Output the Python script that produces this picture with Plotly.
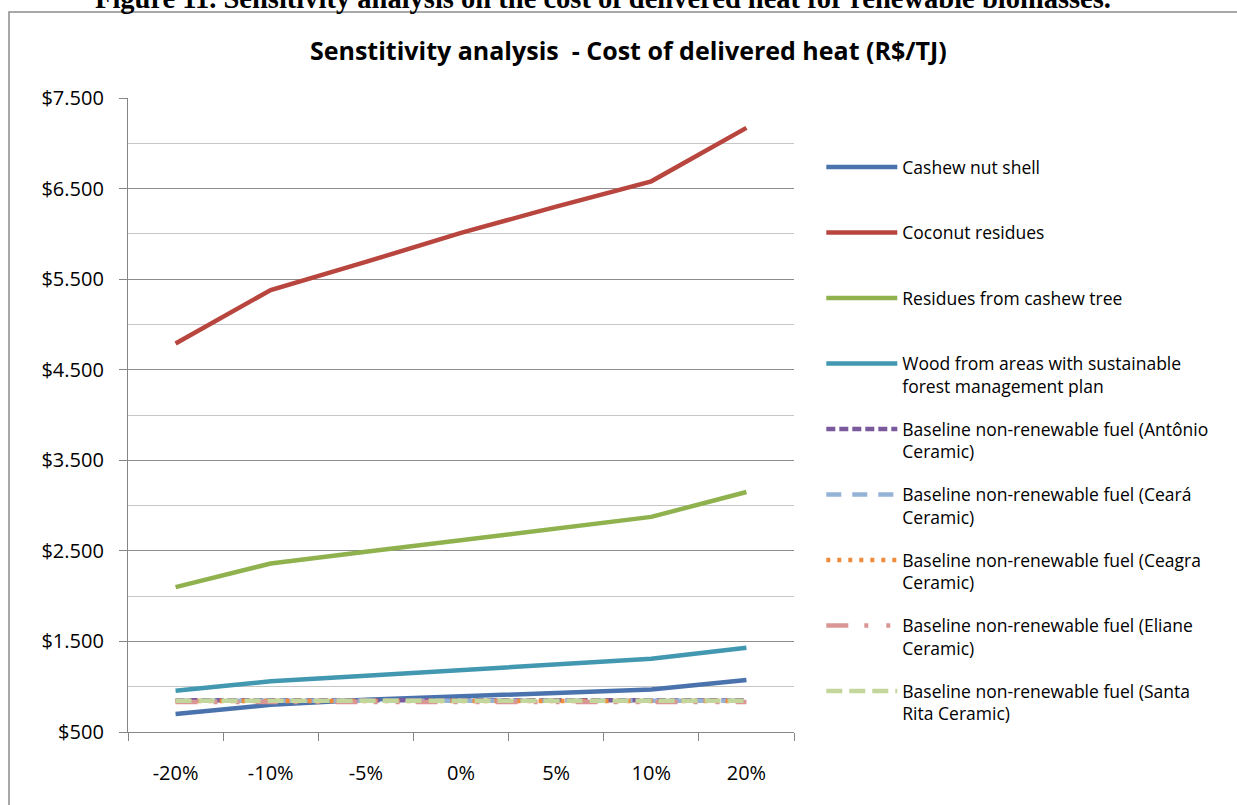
import plotly.graph_objects as go

categories = ["-20%", "-10%", "-5%", "0%", "5%", "10%", "20%"]

cashew_nut_shell = [700, 800, 855, 895, 935, 970, 1075]
coconut_residues = [4790, 5380, 5690, 6010, 6300, 6580, 7170]
residues_cashew_tree = [2100, 2360, 2490, 2620, 2755, 2875, 3150]
wood_sustainable = [955, 1060, 1120, 1180, 1245, 1310, 1430]
baseline_antonio = [850] * 7
baseline_ceara = [845] * 7
baseline_ceagra = [842] * 7
baseline_eliane = [832] * 7
baseline_santa_rita = [845] * 7

y_ticks = [500, 1500, 2500, 3500, 4500, 5500, 6500, 7500]
y_minor = [1000, 2000, 3000, 4000, 5000, 6000, 7000]
y_ticktext = ["$" + f"{v:,}".replace(",", ".") for v in y_ticks]

series = [
    ("Cashew nut shell<br> ", cashew_nut_shell, "#4A72AC", "solid"),
    ("Coconut residues<br> ", coconut_residues, "#B8463F", "solid"),
    ("Residues from cashew tree<br> ", residues_cashew_tree, "#8FB24E", "solid"),
    ("Wood from areas with sustainable<br>forest management plan", wood_sustainable, "#4198B0", "solid"),
    ("Baseline non-renewable fuel (Antônio<br>Ceramic)", baseline_antonio, "#7A5A9C", "9px,4px"),
    ("Baseline non-renewable fuel (Ceará<br>Ceramic)", baseline_ceara, "#95B3D7", "15px,11px"),
    ("Baseline non-renewable fuel (Ceagra<br>Ceramic)", baseline_ceagra, "#F08A3C", "4px,7px"),
    ("Baseline non-renewable fuel (Eliane<br>Ceramic)", baseline_eliane, "#D99694", "22px,16px,4px,18px,4px,16px"),
    ("Baseline non-renewable fuel (Santa<br>Rita Ceramic)", baseline_santa_rita, "#C3D69B", "16px,7px"),
]

fig = go.Figure()
for i, (name, vals, color, dash) in enumerate(series):
    fig.add_trace(go.Scatter(
        x=categories, y=vals, name=name, mode="lines",
        legendgroup=f"g{i}",
        line=dict(color=color, width=4.5, dash=dash),
    ))

FONT = "Open Sans"

fig.update_layout(
    width=1237, height=805,
    margin=dict(l=128, r=443, t=98, b=73),
    paper_bgcolor="white", plot_bgcolor="white",
    title=dict(
        text="<b>Senstitivity analysis  - Cost of delivered heat (R$/TJ)</b>",
        x=0.508, xanchor="center", y=1 - 51 / 805, yanchor="middle",
        font=dict(family=FONT, size=25, color="#000000"),
    ),
    legend=dict(
        x=1.041, xanchor="left", y=(732 - 149) / 634, yanchor="top",
        font=dict(family=FONT, size=17.5, color="#000000"),
        valign="top", itemwidth=71, tracegroupgap=17,
        bgcolor="rgba(0,0,0,0)",
    ),
    font=dict(family=FONT, color="#000000"),
)

fig.update_xaxes(
    type="category", range=[-0.5, 6.5], tickson="boundaries",
    ticks="outside", ticklen=8,
    tickcolor="#868686", tickwidth=1.3,
    showline=True, linecolor="#868686", linewidth=1.3,
    showgrid=False, tickfont=dict(family=FONT, size=20, color="#000000"),
    ticklabelstandoff=23,
)
fig.update_yaxes(
    range=[500, 7500], tickmode="array", tickvals=y_ticks, ticktext=y_ticktext,
    ticks="outside", ticklen=8, tickcolor="#868686", tickwidth=1.3,
    showline=True, linecolor="#868686", linewidth=1.3,
    showgrid=True, gridcolor="#8C8C8C", gridwidth=1.3,
    zeroline=False,
    minor=dict(tickmode="array", tickvals=y_minor, showgrid=True,
               gridcolor="#C6C6C6", gridwidth=1.3, ticks=""),
    tickfont=dict(family=FONT, size=20, color="#000000"),
    ticklabelstandoff=11,
)

# outer chart border
fig.add_shape(type="rect", xref="paper", yref="paper",
              x0=(9 - 128) / 666, x1=2.0, y0=-1.0, y1=(732 - 12) / 634,
              line=dict(color="#8C8C8C", width=1.5), fillcolor="rgba(0,0,0,0)",
              layer="below")

# caption of the page (cut off at top)
fig.add_annotation(
    text="<b>Figure 11. Sensitivity analysis on the cost of delivered heat for renewable biomasses.</b>",
    xref="paper", yref="paper", x=(93 - 128) / 666, xanchor="left",
    y=(732 - 16) / 634, yanchor="bottom", showarrow=False,
    font=dict(family="Liberation Serif", size=28.5, color="#000000"),
)

fig.write_html("out.html", post_script="document.body.style.margin='0';",
               config={"displayModeBar": False})
